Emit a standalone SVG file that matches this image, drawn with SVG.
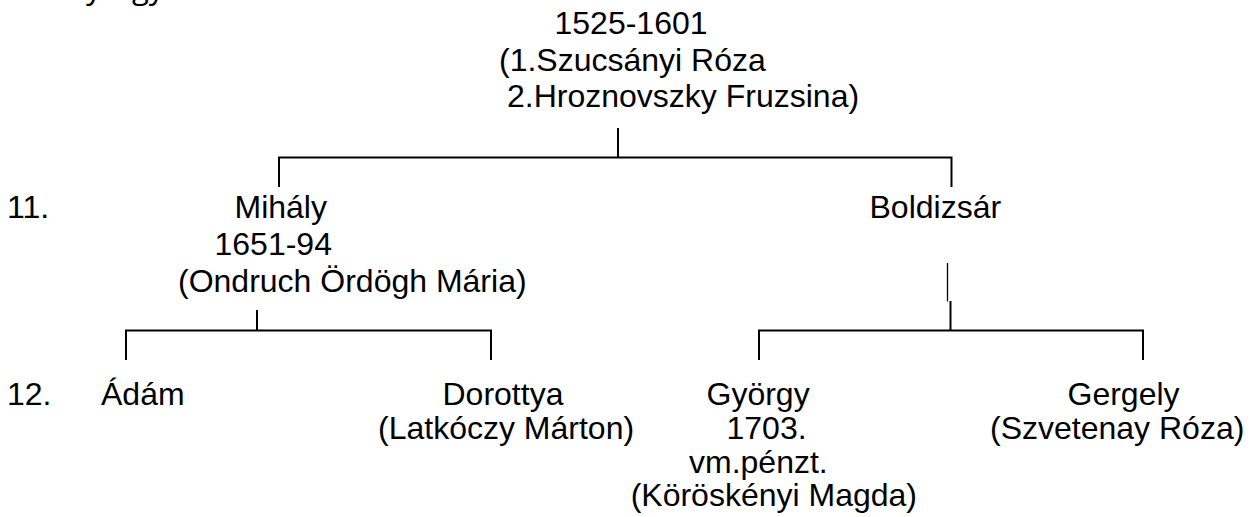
<svg xmlns="http://www.w3.org/2000/svg" width="1256" height="517" viewBox="0 0 1256 517">
  <style>
    text { font-family: "Liberation Sans", Arial, sans-serif; font-size: 32px; fill: #000; }
    text.cut { font-family: "Open Sans", "Noto Sans", sans-serif; font-size: 31px; }
    .ln { fill: none; stroke: #000; stroke-width: 2; }
    .thin { fill: none; stroke: #000; stroke-width: 1.3; }
  </style>
  <rect width="1256" height="517" fill="#fff"/>
  <text class="cut" y="-1.5"><tspan x="86">y</tspan><tspan x="132">gy</tspan></text>
  <g id="labels">
    <text x="7" y="218">11.</text>
    <text x="7" y="404.5">12.</text>
  </g>
  <g id="connectors">
    <path class="ln" d="M618 128 V157.5"/>
    <path class="ln" d="M279 187 V157.5 H951.5 V187"/>
    <path class="ln" d="M257 310 V330.5"/>
    <path class="ln" d="M126 360 V330.5 H491 V360"/>
    <path class="thin" d="M947.5 263 V301.5"/>
    <path class="ln" d="M950.5 301 V330.5"/>
    <path class="ln" d="M759 360 V330.5 H1143 V360"/>
  </g>
  <g id="n-root">
    <text x="554.5" y="34">1525-1601</text>
    <text x="499" y="70.5">(1.Szucsányi Róza</text>
    <text x="507" y="107">2.Hroznovszky Fruzsina)</text>
  </g>
  <g id="n-mihaly">
    <text x="234.5" y="218">Mihály</text>
    <text x="214.5" y="255">1651-94</text>
    <text x="178" y="292">(Ondruch Ördögh Mária)</text>
  </g>
  <g id="n-boldizsar">
    <text x="869.5" y="218">Boldizsár</text>
  </g>
  <g id="n-adam">
    <text x="101" y="404.5">Ádám</text>
  </g>
  <g id="n-dorottya">
    <text x="442.5" y="404.5">Dorottya</text>
    <text x="378" y="439">(Latkóczy Márton)</text>
  </g>
  <g id="n-gyorgy">
    <text x="706.5" y="404.5">György</text>
    <text x="726.5" y="439">1703.</text>
    <text x="689" y="472.5">vm.pénzt.</text>
    <text x="917" y="506" text-anchor="end">(Köröskényi Magda)</text>
  </g>
  <g id="n-gergely">
    <text x="1067.5" y="404.5">Gergely</text>
    <text x="990" y="439">(Szvetenay Róza)</text>
  </g>
</svg>
